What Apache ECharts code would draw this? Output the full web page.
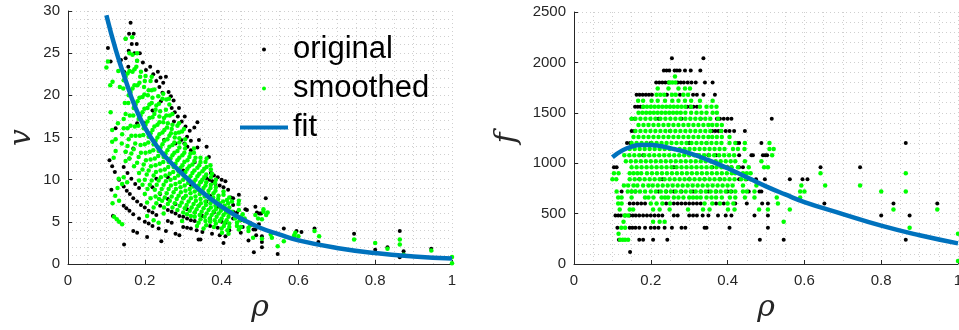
<!DOCTYPE html>
<html>
<head>
<meta charset="utf-8">
<script src="https://cdn.jsdelivr.net/npm/echarts@6/dist/echarts.min.js"></script>
<style>
  html, body { margin: 0; padding: 0; background: #fff; overflow: hidden; }
  #chart { width: 959px; height: 330px; }
</style>
</head>
<body>
<div id="chart"></div>
<script>
  // original data: flow levels (f) and the densities (rho) seen on each level, speed (v) per point
  const fLevelsOrig = [2040, 1920, 1800, 1680, 1560, 1440, 1320, 1200, 1080, 960, 840, 720, 600, 480, 360, 240, 120];
  const rhoOrig = [
    [0.255, 0.337],
    [0.234, 0.241, 0.248, 0.262, 0.268, 0.275, 0.289, 0.304, 0.329],
    [0.214, 0.222, 0.23, 0.238, 0.246, 0.27, 0.278, 0.286, 0.296, 0.306, 0.317, 0.341, 0.361],
    [0.163, 0.171, 0.179, 0.187, 0.195, 0.203, 0.242, 0.276, 0.31, 0.32, 0.337, 0.367],
    [0.159, 0.166, 0.173, 0.18, 0.295, 0.303, 0.311, 0.32],
    [0.15, 0.158, 0.22, 0.28, 0.33, 0.372, 0.38, 0.39, 0.4, 0.41, 0.515],
    [0.15, 0.157, 0.25, 0.36, 0.368, 0.376, 0.384, 0.395, 0.405, 0.417, 0.445],
    [0.138, 0.146, 0.2, 0.3, 0.345, 0.424, 0.43, 0.488, 0.864],
    [0.18, 0.32, 0.35, 0.37, 0.43, 0.462, 0.466, 0.492, 0.498, 0.503],
    [0.104, 0.111, 0.26, 0.36, 0.39, 0.4, 0.41, 0.43, 0.44, 0.642, 0.745],
    [0.17, 0.23, 0.3, 0.34, 0.38, 0.43, 0.45, 0.474, 0.497, 0.562, 0.595, 0.608],
    [0.124, 0.15, 0.16, 0.22, 0.24, 0.26, 0.28, 0.31, 0.33, 0.35, 0.37, 0.4, 0.41, 0.455, 0.483, 0.488],
    [0.145, 0.155, 0.165, 0.175, 0.185, 0.24, 0.26, 0.27, 0.28, 0.29, 0.3, 0.31, 0.32, 0.33, 0.37, 0.39, 0.42, 0.45, 0.49, 0.505, 0.652, 0.832, 0.946],
    [0.108, 0.115, 0.122, 0.133, 0.145, 0.153, 0.161, 0.17, 0.18, 0.19, 0.2, 0.21, 0.22, 0.23, 0.26, 0.27, 0.3, 0.31, 0.32, 0.335, 0.35, 0.375, 0.395, 0.41, 0.47, 0.505, 0.8, 0.874],
    [0.113, 0.145, 0.152, 0.16, 0.17, 0.185, 0.2, 0.21, 0.22, 0.236, 0.255, 0.28, 0.29, 0.34, 0.345, 0.405, 0.505],
    [0.117, 0.17, 0.18, 0.206, 0.243, 0.484, 0.546, 0.864],
    [0.146]
  ];
  const vOrig = [
    [22.2, 16.8],
    [22.8, 22.1, 21.5, 20.4, 19.9, 19.4, 18.5, 17.5, 16.2],
    [23.4, 22.5, 21.7, 21.0, 20.3, 18.5, 18.0, 17.5, 16.9, 16.3, 15.8, 14.7, 13.9],
    [28.6, 27.3, 26.1, 25.0, 23.9, 23.0, 19.3, 16.9, 15.1, 14.6, 13.8, 12.7],
    [27.3, 26.1, 25.0, 24.1, 14.7, 14.3, 13.9, 13.5],
    [26.7, 25.3, 18.2, 14.3, 12.1, 10.8, 10.5, 10.3, 10.0, 9.8, 7.8],
    [24.4, 23.4, 14.7, 10.2, 10.0, 9.8, 9.5, 9.3, 9.1, 8.8, 8.2],
    [24.2, 22.8, 16.7, 11.1, 9.7, 7.9, 7.8, 6.8, 3.9],
    [16.7, 9.4, 8.6, 8.1, 7.0, 6.5, 6.4, 6.1, 6.0, 6.0],
    [25.6, 24.0, 10.3, 7.4, 6.8, 6.7, 6.5, 6.2, 6.1, 4.2, 3.6],
    [13.7, 10.1, 7.8, 6.9, 6.1, 5.4, 5.2, 4.9, 4.7, 4.2, 3.9, 3.8],
    [16.1, 13.3, 12.5, 9.1, 8.3, 7.7, 7.1, 6.5, 6.1, 5.7, 5.4, 5.0, 4.9, 4.4, 4.1, 4.1],
    [11.5, 10.8, 10.1, 9.5, 9.0, 6.9, 6.4, 6.2, 6.0, 5.7, 5.6, 5.4, 5.2, 5.1, 4.5, 4.3, 4.0, 3.7, 3.4, 3.3, 2.6, 2.0, 1.8],
    [12.3, 11.6, 10.9, 10.0, 9.2, 8.7, 8.3, 7.8, 7.4, 7.0, 6.7, 6.3, 6.1, 5.8, 5.1, 4.9, 4.4, 4.3, 4.2, 4.0, 3.8, 3.6, 3.4, 3.3, 2.8, 2.6, 1.7, 1.5],
    [8.8, 6.9, 6.6, 6.3, 5.9, 5.4, 5.0, 4.8, 4.5, 4.2, 3.9, 3.6, 3.4, 2.9, 2.9, 2.5, 2.0],
    [5.7, 3.9, 3.7, 3.2, 2.7, 1.4, 1.2, 0.8],
    [2.3]
  ];

  // smoothed data, same layout
  const fLevelsSmooth = [1860, 1800, 1740, 1680, 1620, 1560, 1500, 1440, 1380, 1320, 1260, 1200, 1140, 1080, 1020, 960, 900, 840, 780, 720, 660, 600, 540, 480, 420, 360, 300, 240, 30];
  const rhoSmooth = [
    [0.263],
    [0.248, 0.256, 0.264],
    [0.218, 0.246, 0.272, 0.289, 0.302],
    [0.215, 0.225, 0.235, 0.255, 0.265, 0.285, 0.297],
    [0.167, 0.18, 0.202, 0.218, 0.237, 0.256, 0.272, 0.289, 0.305, 0.328, 0.361],
    [0.18, 0.19, 0.2, 0.21, 0.22, 0.23, 0.24, 0.25, 0.26, 0.27, 0.28, 0.29, 0.305, 0.328, 0.345, 0.358, 0.371],
    [0.168, 0.178, 0.188, 0.198, 0.208, 0.218, 0.228, 0.238, 0.248, 0.258, 0.268, 0.278, 0.29, 0.305, 0.319, 0.332, 0.345, 0.361, 0.372],
    [0.15, 0.16, 0.173, 0.186, 0.199, 0.212, 0.225, 0.238, 0.251, 0.264, 0.277, 0.29, 0.303, 0.316, 0.329, 0.342, 0.355, 0.375],
    [0.168, 0.181, 0.194, 0.207, 0.22, 0.233, 0.246, 0.259, 0.272, 0.285, 0.298, 0.311, 0.324, 0.337, 0.35, 0.36, 0.372, 0.385],
    [0.16, 0.173, 0.186, 0.199, 0.212, 0.225, 0.238, 0.251, 0.264, 0.277, 0.29, 0.303, 0.316, 0.329, 0.342, 0.355, 0.383],
    [0.155, 0.168, 0.181, 0.194, 0.207, 0.22, 0.233, 0.246, 0.259, 0.272, 0.285, 0.298, 0.311, 0.324, 0.337, 0.35, 0.36, 0.372, 0.385, 0.405],
    [0.15, 0.163, 0.176, 0.189, 0.202, 0.215, 0.228, 0.241, 0.254, 0.267, 0.28, 0.293, 0.306, 0.319, 0.332, 0.345, 0.358, 0.371, 0.384, 0.405, 0.42, 0.445, 0.509],
    [0.145, 0.158, 0.171, 0.184, 0.197, 0.21, 0.223, 0.236, 0.249, 0.262, 0.275, 0.288, 0.301, 0.314, 0.327, 0.34, 0.353, 0.366, 0.379, 0.392, 0.414, 0.427, 0.444, 0.509, 0.52],
    [0.131, 0.144, 0.157, 0.17, 0.183, 0.196, 0.209, 0.222, 0.235, 0.248, 0.261, 0.274, 0.287, 0.3, 0.313, 0.326, 0.339, 0.352, 0.365, 0.378, 0.391, 0.404, 0.417, 0.516],
    [0.135, 0.148, 0.161, 0.174, 0.187, 0.2, 0.213, 0.226, 0.239, 0.252, 0.265, 0.278, 0.291, 0.304, 0.317, 0.33, 0.343, 0.356, 0.369, 0.382, 0.395, 0.408, 0.42, 0.445, 0.488],
    [0.15, 0.163, 0.176, 0.189, 0.202, 0.215, 0.228, 0.241, 0.254, 0.267, 0.28, 0.293, 0.306, 0.319, 0.332, 0.345, 0.358, 0.371, 0.384, 0.397, 0.41, 0.427, 0.455, 0.495, 0.505],
    [0.104, 0.116, 0.145, 0.155, 0.165, 0.175, 0.19, 0.203, 0.216, 0.229, 0.242, 0.255, 0.268, 0.281, 0.294, 0.307, 0.32, 0.333, 0.346, 0.359, 0.372, 0.385, 0.398, 0.411, 0.42, 0.44, 0.45, 0.46, 0.642, 0.864],
    [0.1, 0.11, 0.145, 0.158, 0.171, 0.184, 0.197, 0.21, 0.223, 0.236, 0.249, 0.262, 0.275, 0.288, 0.301, 0.314, 0.327, 0.34, 0.353, 0.366, 0.379, 0.392, 0.405, 0.418, 0.435, 0.447, 0.46],
    [0.13, 0.141, 0.155, 0.165, 0.18, 0.194, 0.205, 0.218, 0.231, 0.244, 0.257, 0.27, 0.283, 0.296, 0.309, 0.322, 0.335, 0.348, 0.361, 0.374, 0.387, 0.4, 0.413, 0.44, 0.475, 0.592, 0.654, 0.745],
    [0.111, 0.14, 0.15, 0.16, 0.172, 0.185, 0.2, 0.213, 0.226, 0.239, 0.252, 0.265, 0.278, 0.291, 0.304, 0.317, 0.33, 0.343, 0.356, 0.369, 0.382, 0.395, 0.408, 0.42, 0.44, 0.45, 0.47, 0.589, 0.6, 0.8, 0.864],
    [0.115, 0.124, 0.15, 0.185, 0.194, 0.207, 0.228, 0.237, 0.245, 0.26, 0.272, 0.285, 0.3, 0.31, 0.32, 0.33, 0.345, 0.358, 0.37, 0.385, 0.406, 0.42, 0.445, 0.47, 0.528, 0.589],
    [0.115, 0.124, 0.2, 0.215, 0.23, 0.25, 0.34, 0.36, 0.38, 0.4, 0.415, 0.531],
    [0.119, 0.145, 0.154, 0.206, 0.223, 0.249, 0.297, 0.336, 0.353, 0.401, 0.418, 0.482, 0.505, 0.562, 0.832, 0.946],
    [0.132, 0.141],
    [0.129, 0.206, 0.223, 0.236, 0.546],
    [0.123, 0.133, 0.874],
    [0.116, 1.0],
    [0.12, 0.127, 0.133, 0.141],
    [1.0]
  ];
  const vSmooth = [
    [19.6],
    [20.2, 19.5, 18.9],
    [22.2, 19.6, 17.8, 16.7, 16.0],
    [21.7, 20.7, 19.9, 18.3, 17.6, 16.4, 15.7],
    [26.9, 25.0, 22.3, 20.6, 19.0, 17.6, 16.5, 15.6, 14.8, 13.7, 12.5],
    [24.1, 22.8, 21.7, 20.6, 19.7, 18.8, 18.1, 17.3, 16.7, 16.0, 15.5, 14.9, 14.2, 13.2, 12.6, 12.1, 11.7],
    [24.8, 23.4, 22.2, 21.0, 20.0, 19.1, 18.3, 17.5, 16.8, 16.2, 15.5, 15.0, 14.4, 13.7, 13.1, 12.6, 12.1, 11.5, 11.2],
    [26.7, 25.0, 23.1, 21.5, 20.1, 18.9, 17.8, 16.8, 15.9, 15.2, 14.4, 13.8, 13.2, 12.7, 12.2, 11.7, 11.3, 10.7],
    [22.8, 21.2, 19.8, 18.5, 17.4, 16.5, 15.6, 14.8, 14.1, 13.4, 12.9, 12.3, 11.8, 11.4, 11.0, 10.6, 10.3, 10.0],
    [22.9, 21.2, 19.7, 18.4, 17.3, 16.3, 15.4, 14.6, 13.9, 13.2, 12.6, 12.1, 11.6, 11.1, 10.7, 10.3, 9.6],
    [22.6, 20.8, 19.3, 18.0, 16.9, 15.9, 15.0, 14.2, 13.5, 12.9, 12.3, 11.7, 11.3, 10.8, 10.4, 10.0, 9.7, 9.4, 9.1, 8.6],
    [22.2, 20.4, 18.9, 17.6, 16.5, 15.5, 14.6, 13.8, 13.1, 12.5, 11.9, 11.4, 10.9, 10.4, 10.0, 9.7, 9.3, 9.0, 8.7, 8.2, 7.9, 7.5, 6.5],
    [21.8, 20.0, 18.5, 17.2, 16.1, 15.1, 14.2, 13.4, 12.7, 12.1, 11.5, 11.0, 10.5, 10.1, 9.7, 9.3, 9.0, 8.7, 8.4, 8.1, 7.6, 7.4, 7.1, 6.2, 6.1],
    [22.9, 20.8, 19.1, 17.6, 16.4, 15.3, 14.4, 13.5, 12.8, 12.1, 11.5, 10.9, 10.5, 10.0, 9.6, 9.2, 8.8, 8.5, 8.2, 7.9, 7.7, 7.4, 7.2, 5.8],
    [21.0, 19.1, 17.6, 16.3, 15.2, 14.2, 13.3, 12.5, 11.9, 11.2, 10.7, 10.2, 9.7, 9.3, 8.9, 8.6, 8.3, 8.0, 7.7, 7.4, 7.2, 6.9, 6.7, 6.4, 5.8],
    [17.8, 16.4, 15.2, 14.1, 13.2, 12.4, 11.7, 11.1, 10.5, 10.0, 9.5, 9.1, 8.7, 8.4, 8.0, 7.7, 7.4, 7.2, 6.9, 6.7, 6.5, 6.2, 5.9, 5.4, 5.3],
    [24.0, 21.6, 17.2, 16.1, 15.2, 14.3, 13.2, 12.3, 11.6, 10.9, 10.3, 9.8, 9.3, 8.9, 8.5, 8.1, 7.8, 7.5, 7.2, 7.0, 6.7, 6.5, 6.3, 6.1, 6.0, 5.7, 5.6, 5.4, 3.9, 2.9],
    [23.3, 21.2, 16.1, 14.8, 13.6, 12.7, 11.8, 11.1, 10.5, 9.9, 9.4, 8.9, 8.5, 8.1, 7.8, 7.4, 7.1, 6.9, 6.6, 6.4, 6.2, 6.0, 5.8, 5.6, 5.4, 5.2, 5.1],
    [16.7, 15.4, 14.0, 13.1, 12.0, 11.2, 10.6, 9.9, 9.4, 8.9, 8.4, 8.0, 7.7, 7.3, 7.0, 6.7, 6.5, 6.2, 6.0, 5.8, 5.6, 5.4, 5.2, 4.9, 4.6, 3.7, 3.3, 2.9],
    [18.0, 14.3, 13.3, 12.5, 11.6, 10.8, 10.0, 9.4, 8.8, 8.4, 7.9, 7.5, 7.2, 6.9, 6.6, 6.3, 6.1, 5.8, 5.6, 5.4, 5.2, 5.1, 4.9, 4.8, 4.5, 4.4, 4.3, 3.4, 3.3, 2.5, 2.3],
    [15.9, 14.8, 12.2, 9.9, 9.4, 8.9, 8.0, 7.7, 7.5, 7.1, 6.7, 6.4, 6.1, 5.9, 5.7, 5.6, 5.3, 5.1, 5.0, 4.8, 4.5, 4.4, 4.1, 3.9, 3.5, 3.1],
    [14.5, 13.4, 8.3, 7.8, 7.2, 6.7, 4.9, 4.6, 4.4, 4.2, 4.0, 3.1],
    [12.6, 10.3, 9.7, 7.3, 6.7, 6.0, 5.1, 4.5, 4.2, 3.7, 3.6, 3.1, 3.0, 2.7, 1.8, 1.6],
    [10.1, 9.5],
    [9.0, 5.7, 5.2, 4.9, 2.1],
    [8.1, 7.5, 1.1],
    [7.2, 0.83],
    [5.6, 5.3, 5.0, 4.7],
    [0.08]
  ];

  // fitted curves
  const fitRho = [0.1, 0.125, 0.15, 0.175, 0.2, 0.225, 0.25, 0.3, 0.35, 0.4, 0.45, 0.5, 0.55, 0.6, 0.7, 0.8, 0.9, 1.0];
  const fitV = [29.5, 25.3, 21.8, 18.6, 16.2, 14.4, 12.9, 10.6, 8.5, 6.8, 5.4, 4.3, 3.5, 2.8, 1.9, 1.3, 0.9, 0.65];
  const fitF = [1060, 1125, 1165, 1180, 1180, 1170, 1150, 1100, 1030, 950, 860, 770, 690, 615, 495, 380, 285, 205];

  function pairs(xs, ys) {
    const out = [];
    for (let i = 0; i < xs.length; i++) {
      if (Array.isArray(xs[i])) {
        for (let j = 0; j < xs[i].length; j++) out.push([xs[i][j], ys[i][j]]);
      } else {
        out.push([xs[i], ys[i]]);
      }
    }
    return out;
  }
  function levelPairs(levels, rhoRows) {
    const out = [];
    for (let i = 0; i < levels.length; i++) {
      for (let j = 0; j < rhoRows[i].length; j++) out.push([rhoRows[i][j], levels[i]]);
    }
    return out;
  }

  const axisColor = '#262626';
  const gridLine = { show: true, lineStyle: { color: '#cfcfcf', type: [1, 3], width: 1 } };
  const labelStyle = { color: axisColor, fontSize: 15, fontFamily: 'Liberation Sans, Arial, sans-serif' };
  const nameStyle = { color: axisColor, fontSize: 30, fontStyle: 'italic', fontFamily: 'DejaVu Serif, Liberation Serif, serif' };

  function xAxisFor(gridIndex) {
    return {
      type: 'value', gridIndex: gridIndex, min: 0, max: 1, interval: 0.2,
      name: 'ρ', nameLocation: 'middle', nameGap: 29, nameTextStyle: nameStyle,
      axisLine: { show: true, onZero: false, lineStyle: { color: axisColor } },
      axisTick: { show: true, inside: true, length: 4, lineStyle: { color: axisColor } },
      axisLabel: { ...labelStyle, margin: 9, formatter: v => String(+v.toFixed(1)) },
      splitLine: gridLine,
      minorTick: { show: false, splitNumber: 4 },
      minorSplitLine: gridLine
    };
  }
  function yAxisFor(gridIndex, max, interval, name, gap) {
    return {
      type: 'value', gridIndex: gridIndex, min: 0, max: max, interval: interval,
      name: name, nameLocation: 'middle', nameGap: gap, nameRotate: 90, nameTextStyle: nameStyle,
      axisLine: { show: true, lineStyle: { color: axisColor } },
      axisTick: { show: true, inside: true, length: 4, lineStyle: { color: axisColor } },
      axisLabel: { ...labelStyle, margin: 8, formatter: v => String(v) },
      splitLine: gridLine,
      minorTick: { show: false, splitNumber: 5 },
      minorSplitLine: gridLine
    };
  }

  const chart = echarts.init(document.getElementById('chart'));
  chart.setOption({
    animation: false,
    backgroundColor: '#fff',
    grid: [
      { left: 68, top: 11, width: 384, height: 253, outerBoundsMode: 'none', containLabel: false },
      { left: 574, top: 12, width: 384, height: 252, outerBoundsMode: 'none', containLabel: false }
    ],
    xAxis: [xAxisFor(0), xAxisFor(1)],
    yAxis: [yAxisFor(0, 30, 5, 'v', 31), yAxisFor(1, 2500, 500, 'f', 52)],
    legend: {
      orient: 'vertical', left: 235, top: 29, itemGap: 8,
      itemWidth: 48, itemHeight: 4,
      textStyle: { color: '#000', fontSize: 31, fontFamily: 'Liberation Sans, Arial, sans-serif' },
      data: [
        { name: 'original', icon: 'circle' },
        { name: 'smoothed', icon: 'circle' },
        { name: 'fit', icon: 'rect' }
      ]
    },
    series: [
      { name: 'original', type: 'scatter', xAxisIndex: 0, yAxisIndex: 0, symbolSize: 4,
        itemStyle: { color: '#000', opacity: 1 }, data: pairs(rhoOrig, vOrig), silent: true },
      { name: 'smoothed', type: 'scatter', xAxisIndex: 0, yAxisIndex: 0, symbolSize: 4.5,
        itemStyle: { color: '#00ff00', opacity: 1 }, data: pairs(rhoSmooth, vSmooth), silent: true },
      { name: 'fit', type: 'line', xAxisIndex: 0, yAxisIndex: 0, smooth: true, showSymbol: false,
        lineStyle: { color: '#0072bd', width: 4.5 }, itemStyle: { color: '#0072bd' },
        data: pairs(fitRho, fitV), silent: true },
      { name: 'original', type: 'scatter', xAxisIndex: 1, yAxisIndex: 1, symbolSize: 4,
        itemStyle: { color: '#000', opacity: 1 }, data: levelPairs(fLevelsOrig, rhoOrig), silent: true },
      { name: 'smoothed', type: 'scatter', xAxisIndex: 1, yAxisIndex: 1, symbolSize: 4.5,
        itemStyle: { color: '#00ff00', opacity: 1 }, data: levelPairs(fLevelsSmooth, rhoSmooth), silent: true },
      { name: 'fit', type: 'line', xAxisIndex: 1, yAxisIndex: 1, smooth: true, showSymbol: false,
        lineStyle: { color: '#0072bd', width: 4.5 }, itemStyle: { color: '#0072bd' },
        data: pairs(fitRho, fitF), silent: true }
    ]
  });
</script>
</body>
</html>
